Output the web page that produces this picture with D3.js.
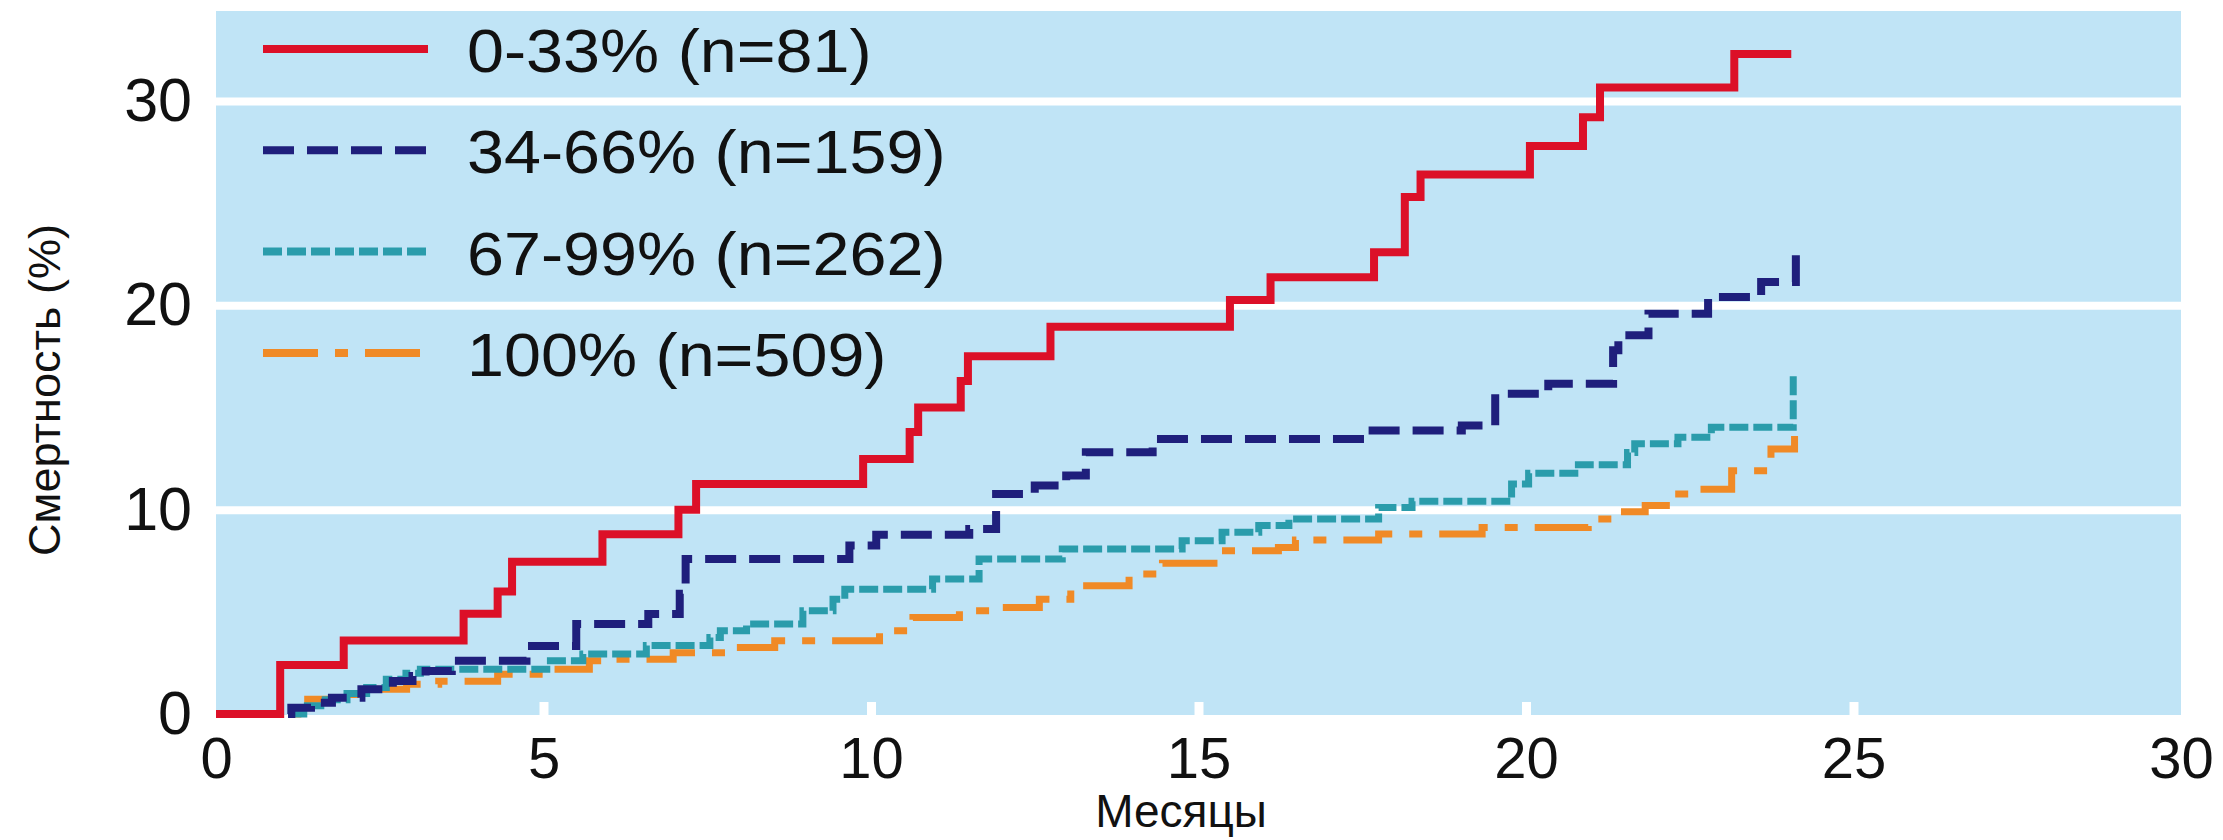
<!DOCTYPE html>
<head>
  <meta charset="utf-8">
  <title>Смертность</title>
  <script src="https://cdn.jsdelivr.net/npm/d3@7"></script>
  <style>
    body { margin: 0; background: #fff; }
    text { font-family: "Liberation Sans", Arial, sans-serif; fill: #111; }
  </style>
</head>

<body>
  <script type="text/javascript">
    var WIDTH = 2223;
    var HEIGHT = 840;

    //===========data (months, cumulative mortality %)
    var red = [[0,0],[0.98,2.4],[1.95,3.6],[3.78,4.9],[4.3,6.0],[4.52,7.45],[5.9,8.8],[7.06,10.0],[7.33,11.26],
               [9.88,12.48],[10.59,13.8],[10.72,15.0],[11.37,16.3],[11.48,17.5],[12.74,18.95],[15.48,20.26],
               [16.1,21.37],[17.68,22.6],[18.15,25.3],[18.39,26.4],[20.06,27.8],[20.87,29.2],[21.13,30.66],
               [23.18,32.3],[24.05,32.3]];
    var navy = [[1.1,0],[1.15,0.31],[1.45,0.55],[1.77,0.8],[2.22,1.21],[2.7,1.62],[3.0,1.86],[3.2,2.11],[3.6,2.6],
                [4.74,3.33],[5.5,4.4],[6.6,4.89],[7.08,5.88],[7.17,7.58],[9.67,8.24],[10.08,8.77],[11.5,9.05],
                [11.91,10.77],[12.5,11.18],[12.98,11.67],[13.28,12.81],[14.3,13.46],[17.55,13.87],[19.02,14.12],
                [19.53,15.67],[20.34,16.16],[21.33,17.8],[21.41,18.53],[21.87,19.59],[22.78,20.41],[23.59,21.14],
                [24.12,22.45]];
    var teal = [[1.1,0],[1.34,0.4],[1.6,0.7],[2.0,1.0],[2.3,1.3],[2.6,1.7],[2.9,2.0],[3.12,2.19],[5.05,2.6],
                [5.6,2.93],[6.57,3.35],[7.54,3.74],[7.7,4.07],[8.1,4.4],[8.96,5.05],[9.42,5.62],[9.6,6.11],
                [10.94,6.6],[11.65,7.58],[12.92,8.07],[14.75,8.48],[15.36,8.89],[15.92,9.22],[16.38,9.54],
                [17.75,10.11],[18.26,10.41],[19.78,11.26],[20.04,11.78],[20.8,12.2],[21.55,12.8],[21.66,13.22],
                [22.32,13.54],[22.83,14.03],[24.08,16.65]];
    var orange = [[1.18,0],[1.25,0.31],[1.4,0.72],[1.8,0.96],[2.4,1.21],[2.91,1.45],[3.4,1.6],[4.3,1.94],
                  [5.0,2.19],[5.7,2.6],[6.0,2.68],[6.98,3.0],[7.79,3.25],[8.53,3.58],[10.13,4.07],[10.64,4.72],
                  [11.35,5.05],[11.85,5.21],[12.57,5.62],[13.05,6.27],[13.94,6.85],[14.45,7.38],[15.31,7.99],
                  [16.22,8.15],[16.48,8.51],[17.75,8.81],[19.33,9.13],[20.95,9.54],[21.4,9.9],[21.82,10.2],
                  [22.27,10.77],[22.6,11.0],[23.14,11.9],[23.74,12.97],[24.1,13.6]];

    var labels = ["0-33% (n=81)", "34-66% (n=159)", "67-99% (n=262)", "100% (n=509)"];
    var xTicks = [0, 5, 10, 15, 20, 25, 30];
    var yTicks = [0, 10, 20, 30];

    var series = [
      { data: red,    color: "#dc1028", width: 8, dash: null },
      { data: navy,   color: "#1f1f7c", width: 8, dash: "31,13" },
      { data: teal,   color: "#2a9cab", width: 7, dash: "19,5" },
      { data: orange, color: "#f08a26", width: 7, dash: "55,17,13,17" }
    ];

    //===========scales
    var plotL = 216, plotR = 2181, plotT = 11, plotB = 714;
    var x = d3.scaleLinear().domain([0, 30]).range([plotL, plotR]);
    var y = d3.scaleLinear().domain([0, 34.4]).range([plotB, plotT]);

    var svg = d3.select("body").append("svg")
                .attr("width", WIDTH)
                .attr("height", HEIGHT);

    svg.append("rect")
      .attr("x", plotL).attr("y", plotT)
      .attr("width", plotR - plotL).attr("height", plotB - plotT + 1)
      .attr("fill", "#c0e4f6");

    // white gridlines
    var grid = svg.append("g")
      .attr("transform", "translate(" + plotL + ",0)")
      .call(d3.axisLeft(y).tickValues([10, 20, 30]).tickSize(-(plotR - plotL)).tickFormat(""));
    grid.select(".domain").remove();
    grid.selectAll("line").attr("stroke", "#fff").attr("stroke-width", 8);

    // small white ticks inside bottom edge
    var xt = svg.append("g")
      .attr("transform", "translate(0," + (plotB + 1) + ")")
      .call(d3.axisBottom(x).tickValues([5, 10, 15, 20, 25]).tickSize(-13).tickFormat(""));
    xt.select(".domain").remove();
    xt.selectAll("line").attr("stroke", "#fff").attr("stroke-width", 9);

    // y labels
    var ya = svg.append("g")
      .attr("transform", "translate(" + plotL + ",0)")
      .call(d3.axisLeft(y).tickValues(yTicks).tickSize(0).tickPadding(24));
    ya.select(".domain").remove();
    ya.selectAll("text").attr("font-size", 61).attr("fill", "#111")
      .attr("font-family", "Liberation Sans, Arial, sans-serif");

    // x labels
    var xa = svg.append("g")
      .attr("transform", "translate(0," + (plotB + 1) + ")")
      .call(d3.axisBottom(x).tickValues(xTicks).tickSize(0).tickPadding(22));
    xa.select(".domain").remove();
    xa.selectAll("text").attr("font-size", 58).attr("fill", "#111")
      .attr("font-family", "Liberation Sans, Arial, sans-serif");

    svg.append("text")
      .attr("x", 1181).attr("y", 827)
      .attr("text-anchor", "middle")
      .attr("font-size", 46)
      .text("Месяцы");

    svg.append("text")
      .attr("transform", "translate(60,390) rotate(-90)")
      .attr("text-anchor", "middle")
      .attr("font-size", 45)
      .text("Смертность (%)");

    //===========step lines
    var line = d3.line()
                 .x(function(d){ return x(d[0]); })
                 .y(function(d){ return y(d[1]); })
                 .curve(d3.curveStepAfter);

    svg.selectAll("path.km")
      .data(series.slice().reverse())
      .enter().append("path")
      .attr("class", "km")
      .attr("d", function(s){ return line(s.data); })
      .attr("fill", "none")
      .attr("stroke", function(s){ return s.color; })
      .attr("stroke-width", function(s){ return s.width; })
      .attr("stroke-dasharray", function(s){ return s.dash; })
      .attr("stroke-linejoin", "miter");

    //===========legend
    var legend = svg.selectAll("g.leg")
      .data(series)
      .enter().append("g")
      .attr("class", "leg")
      .attr("transform", function(d, i){ return "translate(263," + (49 + i * 101.3) + ")"; });

    legend.append("line")
      .attr("x1", 0).attr("x2", 165)
      .attr("stroke", function(s){ return s.color; })
      .attr("stroke-width", 8)
      .attr("stroke-dasharray", function(s){ return s.dash; });

    legend.append("text")
      .attr("transform", "translate(204,23) scale(1.09,1)")
      .attr("font-size", 61)
      .text(function(d, i){ return labels[i]; });
  </script>
</body>
